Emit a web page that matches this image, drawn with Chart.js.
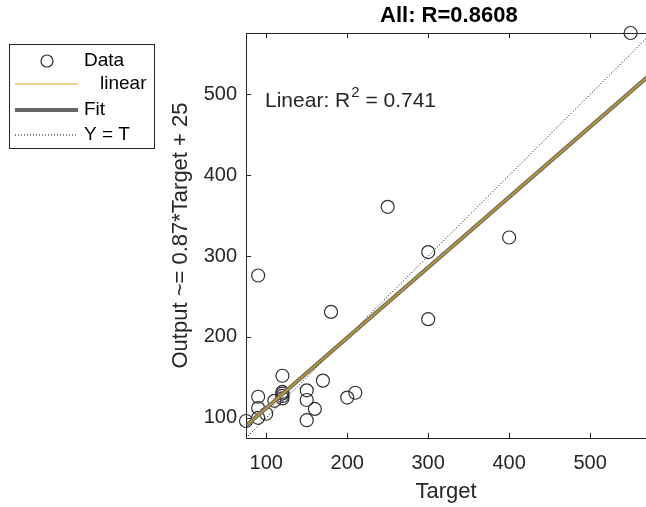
<!DOCTYPE html>
<html>
<head>
<meta charset="utf-8">
<script src="https://cdn.jsdelivr.net/npm/chart.js@4/dist/chart.umd.min.js"></script>
<style>
  html, body { margin: 0; padding: 0; background: #fff; }
</style>
</head>
<body>
<canvas id="chart" width="646" height="507"></canvas>
<script>
// data
const targets = [550, 250, 300, 400, 300, 90, 180, 120, 170, 90, 110, 120, 120, 120, 120, 150, 150, 160, 150, 200, 210, 90, 100, 90, 75];
const outputs = [576, 361, 305, 323, 222, 276, 231, 152, 146, 126, 121, 124, 127, 130, 132, 134, 122, 111, 97, 125, 131, 112, 105, 100, 96];
const xTicks = [100, 200, 300, 400, 500];
const yTicks = [100, 200, 300, 400, 500];
const fitSlope = 0.87;
const fitIntercept = 25;
const rValue = "0.8608";
const rSquared = "0.741";

const lo = Math.min(...targets, ...outputs);
const hi = Math.max(...targets, ...outputs);
const xVisibleMax = 569; // right side of the axes is cut off by the window

const FONT = '"Liberation Sans", Arial, sans-serif';
const TEXT = "#262626";
Chart.defaults.font.family = FONT;

const points = targets.map((t, i) => ({ x: t, y: outputs[i] }));
const fitLine = [lo, hi].map(t => ({ x: t, y: fitSlope * t + fitIntercept }));
const identity = [lo, hi].map(t => ({ x: t, y: t }));

const extras = {
  id: "extras",
  afterDraw(chart) {
    const { ctx, chartArea: a, scales: { x, y } } = chart;
    ctx.save();

    // axes box and inward ticks
    ctx.strokeStyle = TEXT;
    ctx.lineWidth = 1;
    ctx.beginPath();
    ctx.moveTo(a.left + 0.5, a.top + 0.5);
    ctx.lineTo(a.right, a.top + 0.5);
    ctx.moveTo(a.left + 0.5, a.top);
    ctx.lineTo(a.left + 0.5, a.bottom + 0.5);
    ctx.lineTo(a.right, a.bottom + 0.5);
    xTicks.forEach(v => {
      const px = Math.round(x.getPixelForValue(v)) + 0.5;
      ctx.moveTo(px, a.bottom); ctx.lineTo(px, a.bottom - 5);
      ctx.moveTo(px, a.top); ctx.lineTo(px, a.top + 5);
    });
    yTicks.forEach(v => {
      const py = Math.round(y.getPixelForValue(v)) + 0.5;
      ctx.moveTo(a.left, py); ctx.lineTo(a.left + 5, py);
    });
    ctx.stroke();

    // title
    ctx.fillStyle = "#000";
    ctx.font = "bold 22px " + FONT;
    ctx.textAlign = "center";
    ctx.textBaseline = "alphabetic";
    ctx.fillText("All: R=" + rValue, x.getPixelForValue((lo + hi) / 2), 22);

    // R^2 annotation
    ctx.fillStyle = TEXT;
    ctx.textAlign = "left";
    ctx.font = "21px " + FONT;
    let tx = 265;
    ctx.fillText("Linear: R", tx, 107);
    tx += ctx.measureText("Linear: R").width;
    ctx.font = "15px " + FONT;
    ctx.fillText("2", tx + 1, 97);
    tx += ctx.measureText("2").width + 1;
    ctx.font = "21px " + FONT;
    ctx.fillText(" = " + rSquared, tx, 107);

    // legend
    ctx.fillStyle = "#fff";
    ctx.fillRect(9, 44, 145, 104);
    ctx.strokeStyle = TEXT;
    ctx.strokeRect(9.5, 44.5, 145, 104);
    ctx.font = "19px " + FONT;
    ctx.fillStyle = "#000";
    ctx.textBaseline = "middle";

    ctx.beginPath();
    ctx.arc(47, 61, 6, 0, Math.PI * 2);
    ctx.strokeStyle = "#303030";
    ctx.lineWidth = 1.2;
    ctx.stroke();
    ctx.fillText("Data", 84, 61);

    ctx.beginPath();
    ctx.moveTo(15, 84); ctx.lineTo(78, 84);
    ctx.strokeStyle = "#E0A820";
    ctx.lineWidth = 1;
    ctx.stroke();
    ctx.fillText("linear", 100, 84);

    ctx.beginPath();
    ctx.moveTo(15, 110); ctx.lineTo(78, 110);
    ctx.strokeStyle = "#666";
    ctx.lineWidth = 4;
    ctx.stroke();
    ctx.fillText("Fit", 84, 110);

    ctx.beginPath();
    ctx.setLineDash([1, 2]);
    ctx.moveTo(15, 135); ctx.lineTo(78, 135);
    ctx.strokeStyle = "#000";
    ctx.lineWidth = 1;
    ctx.stroke();
    ctx.setLineDash([]);
    ctx.fillText("Y = T", 84, 135);

    ctx.restore();
  }
};

new Chart(document.getElementById("chart"), {
  type: "scatter",
  data: {
    datasets: [
      { label: "linear", data: fitLine, showLine: true, pointRadius: 0, borderColor: "#C99A1E", borderWidth: 1.5, order: 0 },
      { label: "Fit", data: fitLine, showLine: true, pointRadius: 0, borderColor: "#707070", borderWidth: 4, order: 1 },
      { label: "Y = T", data: identity, showLine: true, pointRadius: 0, borderColor: "#000", borderWidth: 1, borderDash: [1, 2], order: 2 },
      { label: "Data", data: points, pointRadius: 6.5, pointBorderWidth: 1.2, borderColor: "#303030", backgroundColor: "rgba(0,0,0,0)", clip: false, order: 3 }
    ]
  },
  options: {
    responsive: false,
    animation: false,
    events: [],
    layout: { autoPadding: false, padding: { left: 160, top: 33, right: 0, bottom: 0 } },
    plugins: { legend: { display: false }, tooltip: { enabled: false } },
    scales: {
      x: {
        type: "linear", min: lo, max: xVisibleMax,
        afterBuildTicks: s => { s.ticks = xTicks.map(v => ({ value: v })); },
        afterFit: s => { s.height = 69; s.paddingLeft = 0; s.paddingRight = 0; },
        grid: { display: false, drawTicks: false },
        border: { display: false },
        ticks: { color: TEXT, font: { size: 20 }, padding: 13 },
        title: { display: true, text: "Target", color: TEXT, font: { size: 22 }, padding: { top: 0, bottom: 2 } }
      },
      y: {
        type: "linear", min: lo, max: hi,
        afterBuildTicks: s => { s.ticks = yTicks.map(v => ({ value: v })); },
        afterFit: s => { s.width = 86; s.paddingTop = 0; s.paddingBottom = 0; },
        grid: { display: false, drawTicks: false },
        border: { display: false },
        ticks: { color: TEXT, font: { size: 20 }, padding: 9 },
        title: { display: true, text: "Output ~= 0.87*Target + 25", color: TEXT, font: { size: 22 }, padding: { top: 8, bottom: 0 } }
      }
    }
  },
  plugins: [extras]
});
</script>
</body>
</html>
